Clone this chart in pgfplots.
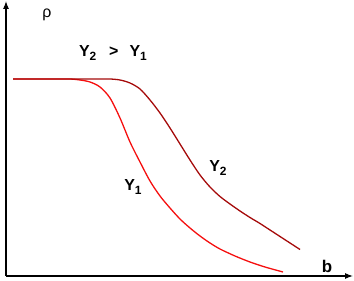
\documentclass[border=0pt]{standalone}
\usepackage{pgfplots}
\pgfplotsset{compat=1.18}
\usetikzlibrary{arrows.meta}
\usepackage{fontspec}
\setmainfont{Liberation Sans}
\definecolor{cone}{RGB}{245,15,15}
\definecolor{ctwo}{RGB}{165,10,10}
\begin{document}
\begin{tikzpicture}
\begin{axis}[
  scale only axis, width=354bp, height=281bp,
  xmin=0, xmax=354, ymin=0, ymax=281,
  axis lines=none, clip=false,
]
\path (axis cs:0,0) rectangle (axis cs:354,281);
\addplot[cone, line width=1.3pt, smooth] coordinates {
(13,202)(60,202)(70,202)(80,201)(90,199)(100,194)(110,183)(120,163)(130,139)(140,119)(150,100)(160,85)(170,73)(180,62)(190,53)(200,45)(210,38)(220,32)(235,25)(250,19)(265,14)(283,9)};
\addplot[ctwo, line width=1.3pt, smooth] coordinates {
(13,202)(100,202)(110,202)(120,201)(130,198)(140,192)(150,181)(160,168)(170,153)(180,137)(190,121)(200,106)(210,94)(220,84.5)(230,77)(240,70)(250,63.5)(260,57.5)(270,51)(280,44.5)(290,38)(300,31.5)};
\draw[line width=1.1pt, -{Latex[length=8pt,width=6pt]}] (axis cs:6,5) -- (axis cs:353,5);
\draw[line width=1.1pt, -{Latex[length=8pt,width=6pt]}] (axis cs:6,5) -- (axis cs:6,280);
\node[font=\fontsize{16}{18}\selectfont] at (axis cs:47,266) {ρ};
\node[font=\fontsize{17}{19}\selectfont\bfseries] at (axis cs:327,15) {b};
\node[font=\fontsize{16}{18}\selectfont\bfseries] at (axis cs:113,228) {Y\raisebox{-0.45ex}{\fontsize{12}{14}\selectfont 2}\hspace{0.8em}>\hspace{0.7em}Y\raisebox{-0.45ex}{\fontsize{12}{14}\selectfont 1}};
\node[font=\fontsize{16}{18}\selectfont\bfseries] at (axis cs:218,113) {Y\raisebox{-0.45ex}{\fontsize{12}{14}\selectfont 2}};
\node[font=\fontsize{16}{18}\selectfont\bfseries] at (axis cs:133,94) {Y\raisebox{-0.45ex}{\fontsize{12}{14}\selectfont 1}};
\end{axis}
\end{tikzpicture}
\end{document}
